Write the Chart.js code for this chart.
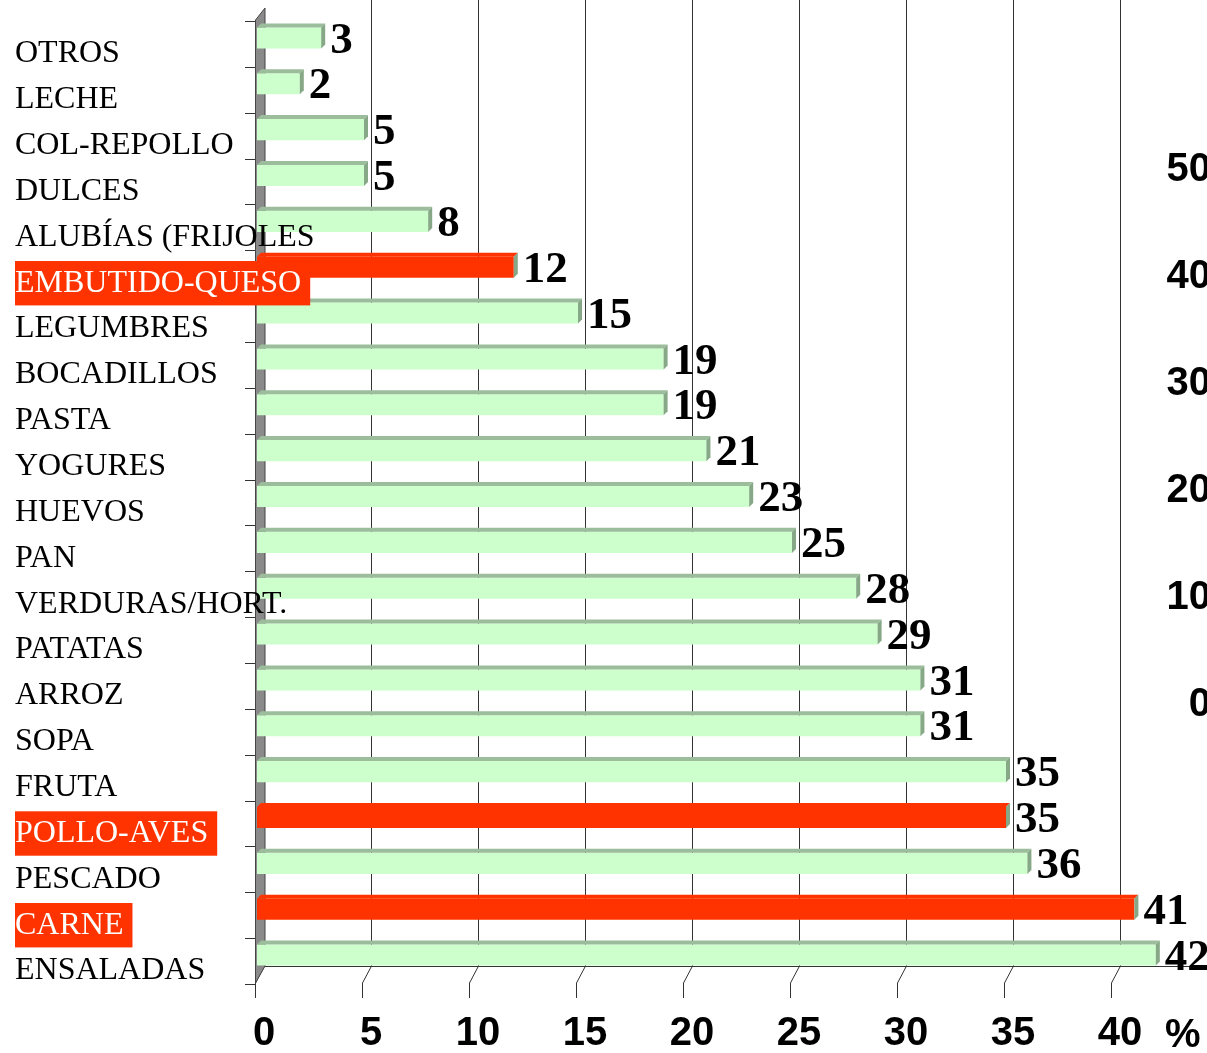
<!DOCTYPE html>
<html>
<head>
<meta charset="UTF-8">
<title>Alimentos consumidos</title>
<script src="https://cdn.jsdelivr.net/npm/chart.js"></script>
<style>
  body { margin: 0; background: #fff; overflow: hidden; }
  .wrap { position: relative; width: 1225px; height: 1053px; }
</style>
</head>
<body>
<div class="wrap"><canvas id="chart"></canvas></div>
<script>
// data, top to bottom
const categories = ['OTROS', 'LECHE', 'COL-REPOLLO', 'DULCES', 'ALUBÍAS (FRIJOLES', 'EMBUTIDO-QUESO',
  'LEGUMBRES', 'BOCADILLOS', 'PASTA', 'YOGURES', 'HUEVOS', 'PAN', 'VERDURAS/HORT.', 'PATATAS',
  'ARROZ', 'SOPA', 'FRUTA', 'POLLO-AVES', 'PESCADO', 'CARNE', 'ENSALADAS'];
const values = [3, 2, 5, 5, 8, 12, 15, 19, 19, 21, 23, 25, 28, 29, 31, 31, 35, 35, 36, 41, 42];
const highlighted = ['EMBUTIDO-QUESO', 'POLLO-AVES', 'CARNE'];
const xTicks = [0, 5, 10, 15, 20, 25, 30, 35, 40];
const rightTicks = [0, 10, 20, 30, 40, 50];   // cut-off axis at the right edge

const RED = '#ff3300';
const GREEN = '#ccffcc';
const serif = "'Liberation Serif', 'Times New Roman', serif";
const sans = "'Liberation Sans', Arial, sans-serif";
const LABEL_W = 242;

const isHot = i => highlighted.includes(categories[i]);

function poly(ctx, pts) {
  ctx.beginPath();
  ctx.moveTo(pts[0][0], pts[0][1]);
  for (let k = 1; k < pts.length; k++) ctx.lineTo(pts[k][0], pts[k][1]);
  ctx.closePath();
  ctx.fill();
}

// fake 3d: side wall, back grid, floor, bar tops and ends
const depth = {
  id: 'depth',
  beforeDatasetsDraw(chart) {
    const { ctx, chartArea: a, scales: { x, y } } = chart;
    const floor = a.bottom - 12;
    ctx.save();
    ctx.strokeStyle = '#333';
    ctx.lineWidth = 1;
    ctx.beginPath();
    xTicks.forEach(v => {
      const px = Math.round(x.getPixelForValue(v));
      const back = px + 7.5, front = px - 1.5;
      if (v > 0) { ctx.moveTo(back, 0); ctx.lineTo(back, floor); }
      ctx.moveTo(back, floor);
      ctx.lineTo(front, floor + 17);
      ctx.lineTo(front, floor + 32);
    });
    // floor edge
    ctx.moveTo(a.left + 8, floor + 0.5);
    ctx.lineTo(chart.width, floor + 0.5);
    // category ticks
    for (let i = 0; i <= categories.length; i++) {
      const py = Math.round(y.getPixelForValue(i - 0.5)) + 6.5;
      ctx.moveTo(a.left - 12, py);
      ctx.lineTo(a.left - 2, py);
    }
    ctx.stroke();

    // side wall
    ctx.fillStyle = '#8a8a8a';
    ctx.strokeStyle = '#444';
    ctx.beginPath();
    ctx.moveTo(a.left - 1.5, a.top + 5);
    ctx.lineTo(a.left + 8, a.top - 7);
    ctx.lineTo(a.left + 8, floor);
    ctx.lineTo(a.left - 1.5, floor + 17);
    ctx.closePath();
    ctx.fill();
    ctx.stroke();
    ctx.restore();
  },
  afterDatasetsDraw(chart) {
    const { ctx, scales: { x } } = chart;
    const meta = chart.getDatasetMeta(0);
    ctx.save();
    meta.data.forEach((bar, i) => {
      const p = bar.getProps(['x', 'y', 'base', 'height'], true);
      const top = p.y - p.height / 2, bot = p.y + p.height / 2;
      ctx.fillStyle = isHot(i) ? RED : '#9bbd9b';
      poly(ctx, [[p.base, top], [p.base + 4, top - 4], [p.x + 4, top - 4], [p.x, top]]);
      ctx.fillStyle = '#86a886';
      poly(ctx, [[p.x, top], [p.x + 4, top - 4], [p.x + 4, bot - 4], [p.x, bot]]);

      ctx.fillStyle = '#000';
      ctx.font = 'bold 45px ' + serif;
      ctx.textAlign = 'left';
      ctx.textBaseline = 'middle';
      ctx.fillText(String(values[i]), p.x + 9, p.y + 3);
    });
    // unit after the last x tick
    ctx.font = 'bold 40px ' + sans;
    ctx.textAlign = 'left';
    ctx.textBaseline = 'middle';
    ctx.fillText('%', x.getPixelForValue(40) + 52, x.top + 58);
    ctx.restore();
  }
};

new Chart(document.getElementById('chart'), {
  type: 'bar',
  data: {
    labels: categories,
    datasets: [{
      data: values,
      backgroundColor: values.map((v, i) => isHot(i) ? RED : GREEN),
      borderWidth: 0,
      barPercentage: 0.46,
      categoryPercentage: 1,
      clip: false
    }]
  },
  options: {
    indexAxis: 'y',
    responsive: true,
    maintainAspectRatio: false,
    animation: false,
    layout: { padding: { top: 15, left: 15, right: 14, bottom: 0 } },
    plugins: { legend: { display: false }, tooltip: { enabled: false } },
    scales: {
      x: {
        min: 0,
        max: 40,
        grid: { display: false, drawTicks: false },
        border: { display: false },
        afterBuildTicks(s) { s.ticks = xTicks.map(v => ({ value: v })); },
        ticks: {
          autoSkip: false,
          maxRotation: 0,
          padding: 32,
          labelOffset: 7,
          color: '#000',
          font: { family: sans, size: 40, weight: 'bold' }
        },
        afterFit(s) { s.height = 75; s.paddingLeft = 0; s.paddingRight = 0; }
      },
      y: {
        type: 'category',
        grid: { display: false },
        border: { display: false },
        ticks: {
          z: 1,
          // mirrored so the labels are not clipped to the axis box
          mirror: true,
          crossAlign: 'near',
          padding: -LABEL_W,
          labelOffset: 16,
          autoSkip: false,
          font: { family: serif, size: 32 },
          color: c => isHot(c.index) ? '#fff' : '#000',
          showLabelBackdrop: c => isHot(c.index),
          backdropColor: RED,
          backdropPadding: { top: 3, bottom: 3, left: 0, right: 9 }
        },
        afterFit(s) { s.width = LABEL_W; s.paddingTop = 0; s.paddingBottom = 0; }
      },
      y2: {
        type: 'linear',
        position: 'right',
        offset: false,
        bounds: 'data',
        min: -25.5,
        max: 64.5,
        grid: { display: false },
        border: { display: false },
        afterBuildTicks(s) { s.ticks = rightTicks.map(v => ({ value: v })); },
        ticks: {
          crossAlign: 'far',
          color: '#000',
          font: { family: sans, size: 40, weight: 'bold' }
        },
        afterFit(s) { s.width = 98; s.paddingTop = 0; s.paddingBottom = 0; }
      }
    }
  },
  plugins: [depth]
});
</script>
</body>
</html>
